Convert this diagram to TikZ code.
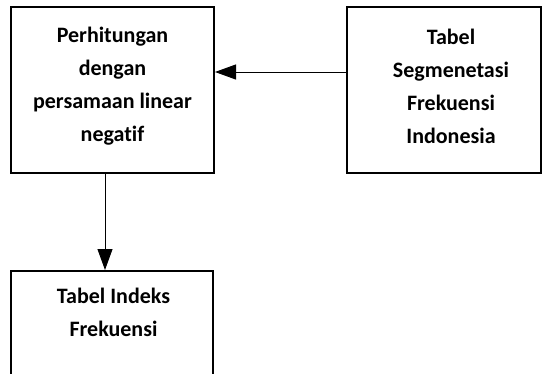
\documentclass[tikz,border=0pt]{standalone}
\usepackage{fontspec}
\setmainfont{Carlito}[Ligatures=NoCommon]
\usetikzlibrary{arrows.meta}
\begin{document}
\begin{tikzpicture}[x=1pt,y=-1pt,
  boxstyle/.style={draw=black,line width=2pt,rectangle,inner sep=0pt},
  txtstyle/.style={align=center,font=\bfseries\fontsize{22}{33}\selectfont,inner sep=0pt},
  arrstyle/.style={draw=black,line width=1pt,-{Triangle[length=21pt,width=15pt]}}]
\useasboundingbox (0,0) rectangle (542,373);
\node[boxstyle,minimum width=203pt,minimum height=166pt] (lbox) at (112.5,90) {};
\node[boxstyle,minimum width=194pt,minimum height=166pt] (rbox) at (444,90) {};
\node[boxstyle,minimum width=202pt,minimum height=200pt] (bbox) at (112,371) {};
\node[txtstyle] (ltxt) at (112.5,86) {Perhitungan\\dengan\\persamaan linear\\negat\kern0pt if};
\node[txtstyle] (rtxt) at (451,86) {Tabel\\Segmenetasi\\Frekuensi\\Indonesia};
\node[txtstyle] (btxt) at (113.5,312) {Tabel Indeks\\Frekuensi};
\draw[arrstyle] (rbox.west |- 0,72) -- (lbox.east |- 0,72);
\draw[arrstyle] (lbox.south -| 105,0) -- (bbox.north -| 105,0);
\end{tikzpicture}
\end{document}
